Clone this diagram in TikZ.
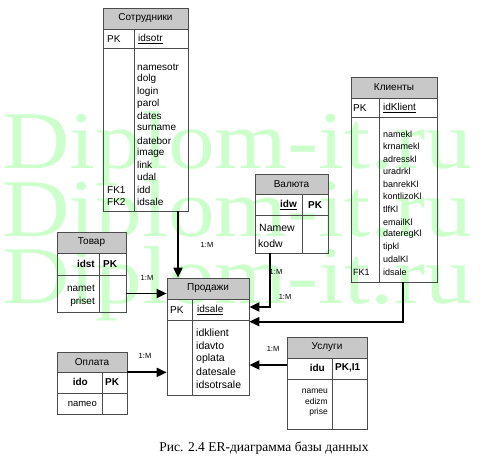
\documentclass[tikz,border=0pt]{standalone}
\usepackage{fontspec}
\setmainfont{Liberation Serif}
\newfontfamily\erfont{Liberation Sans}
\usetikzlibrary{arrows.meta, positioning}
\definecolor{wmgreen}{RGB}{205,255,205}
\definecolor{hdrgray}{RGB}{200,200,200}

\begin{document}
\begin{tikzpicture}[x=1pt, y=-1pt,
    hdr/.style={draw=black!70, line width=.7pt, fill=hdrgray, inner sep=0pt, font=\erfont\fontsize{10}{12}\selectfont},
    cell/.style={draw=black!70, line width=.7pt, inner sep=0pt},
    fld/.style={anchor=west, inner sep=0pt, font=\erfont\fontsize{10}{12}\selectfont},
    fldr/.style={fld, anchor=east},
    key/.style={fld, font=\erfont\bfseries\fontsize{10}{12}\selectfont},
    keyr/.style={key, anchor=east},
    card/.style={inner sep=0pt, font=\erfont\fontsize{7.5}{9}\selectfont},
    rel/.style={line width=1.8pt, -{Triangle[length=10pt, width=9pt]}},
    wm/.style={anchor=base, inner sep=0pt, text=wmgreen, font=\fontsize{82}{82}\selectfont, xscale=1.14}]
  \useasboundingbox (0,0) rectangle (480,461);
  % watermark
  \foreach \yy [count = \w] in {168, 236, 303}{
      \node[wm] (wm\w) at (237, \yy) {Diplom-it.ru};
    }
  % tables: name / left / divider / right / top / title bottom / key bottom / bottom / title
  \foreach \nm/\L/\D/\R/\a/\b/\c/\d/\ttl in {
      sotr/103/134/188/8/29/48/211/Сотрудники,
      kli/351/379/437/77/98/117/282/Клиенты,
      val/255/302/328/174/194/215/253/Валюта,
      tov/57/99/126/232/253/275/312/Товар,
      prod/167/192/249/278/299/320/395/Продажи,
      opl/57/102/127/352/372/393/414/Оплата,
      usl/287/332/367/337/358/379/429/Услуги}{
      \node[hdr, minimum width=\R-\L, minimum height=\b-\a] (\nm T) at ({(\L+\R)/2}, {(\a+\b)/2}) {\ttl};
      \node[cell, minimum width=\R-\L, minimum height=\c-\b] (\nm K) at ({(\L+\R)/2}, {(\b+\c)/2}) {};
      \node[cell, minimum width=\R-\L, minimum height=\d-\c] (\nm B) at ({(\L+\R)/2}, {(\c+\d)/2}) {};
      \draw[cell] (\D, \b) -- (\D, \d);
    }
  % Сотрудники
  \node[fld] (sotrPK) at (107, 39) {PK};
  \node[fld] (sotrID) at (138, 39) {\underline{idsotr}};
  \foreach \f [count = \i] in {namesotr, dolg, login, parol, dates, surname, datebor, image, link, udal, idd, idsale}{
      \node[fld] (sotrF\i) at (137, 54.7 + 12.27*\i) {\f};
    }
  \node[fld] (sotrFK1) at (107, 54.7 + 12.27*11) {FK1};
  \node[fld] (sotrFK2) at (107, 54.7 + 12.27*12) {FK2};
  % Клиенты
  \node[fld] (kliPK) at (353, 108) {PK};
  \node[fld] (kliID) at (383, 108) {\underline{idKlient}};
  \foreach \f [count = \i] in {namekl, krnamekl, adresskl, uradrkl, banrekKl, kontlizoKl, tlfKl, emailKl, dateregKl, tipkl, udalKl, idsale}{
      \node[fld, font=\erfont\fontsize{9}{11}\selectfont] (kliF\i) at (383, 121.45 + 12.55*\i) {\f};
    }
  \node[fld, font=\erfont\fontsize{9}{11}\selectfont] (kliFK1) at (353, 121.45 + 12.55*12) {FK1};
  % Валюта
  \node[keyr] (valID) at (297, 205) {\underline{idw}};
  \node[key] (valPK) at (308, 205) {PK};
  \node[fld, font=\erfont\fontsize{10.5}{12}\selectfont] (valF1) at (259, 228) {Namew};
  \node[fld, font=\erfont\fontsize{10.5}{12}\selectfont] (valF2) at (258, 244) {kodw};
  % Товар
  \node[keyr] (tovID) at (95, 264) {idst};
  \node[key] (tovPK) at (103, 264) {PK};
  \node[fldr] (tovF1) at (95, 288) {namet};
  \node[fldr] (tovF2) at (95, 302) {priset};
  % Продажи
  \node[fld] (prodPK) at (170, 310) {PK};
  \node[fld] (prodID) at (197, 310) {\underline{idsale}};
  \foreach \f [count = \i] in {idklient, idavto, oplata, datesale, idsotrsale}{
      \node[fld, font=\erfont\fontsize{10.5}{12}\selectfont] (prodF\i) at (196, 320 + 13*\i) {\f};
    }
  % Оплата
  \node[keyr] (oplID) at (88, 382) {ido};
  \node[key] (oplPK) at (105, 382) {PK};
  \node[fldr, font=\erfont\fontsize{9.5}{11}\selectfont] (oplF1) at (97, 404) {nameo};
  % Услуги
  \node[keyr] (uslID) at (325, 368) {idu};
  \node[key] (uslPK) at (335, 368) {PK,I1};
  \foreach \f [count = \i] in {nameu, edizm, prise}{
      \node[fldr, font=\erfont\fontsize{8.5}{10}\selectfont] (uslF\i) at (328, 380.5 + 10.5*\i) {\f};
    }
  % relations
  \coordinate (sotrOut) at ([xshift=32.5pt]sotrB.south);
  \coordinate (valOut) at ([xshift=-21.5pt]valB.south);
  \coordinate (kliOut) at ([xshift=9pt]kliB.south);
  \coordinate (prodIn1) at ([yshift=2.5pt]prodK.east);
  \coordinate (prodIn2) at ([yshift=-2pt]prodB.north east);
  \coordinate (uslOut) at ([yshift=3.5pt]uslK.west);
  \draw[rel] (sotrOut) -- (sotrOut |- prodT.north);
  \draw[rel] (valOut) |- (prodIn1);
  \draw[rel] (kliOut) |- (prodIn2);
  \draw[rel] (tovB.east) -- (tovB.east -| prodB.west);
  \draw[rel] (oplT.south east) -- (oplT.south east -| prodB.west);
  \draw[rel] (uslOut) -- (uslOut -| prodB.east);
  \node[card] (c1) at (207, 245) {1:M};
  \node[card] (c2) at (276, 272) {1:M};
  \node[card] (c3) at (285, 297) {1:M};
  \node[card] (c4) at (147, 278) {1:M};
  \node[card] (c5) at (145, 356) {1:M};
  \node[card] (c6) at (273, 349) {1:M};
  % caption
  \node[font=\fontsize{13.5}{15}\selectfont] (cap) at (264, 448) {Рис. 2.4 ER-диаграмма базы данных};
\end{tikzpicture}
\end{document}
